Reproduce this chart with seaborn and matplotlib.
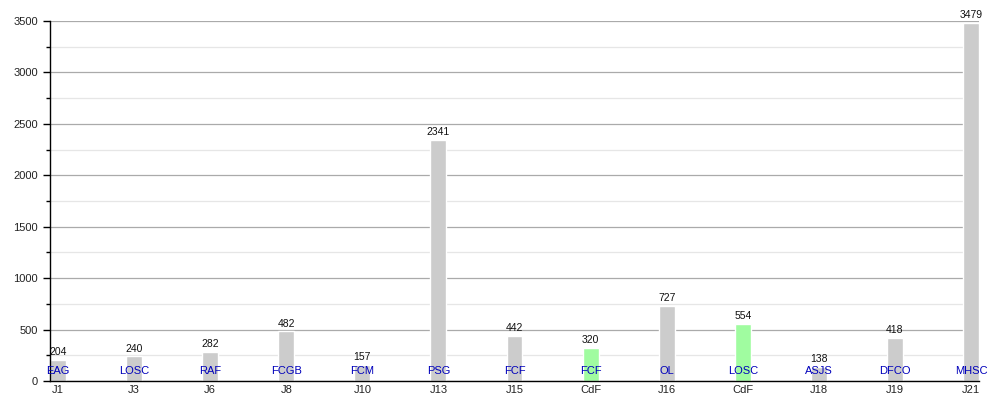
import matplotlib
matplotlib.use("Agg")
import matplotlib.pyplot as plt
import pandas as pd
import seaborn as sns
from matplotlib.ticker import MultipleLocator

rounds = ["J1", "J3", "J6", "J8", "J10", "J13", "J15", "CdF", "J16", "CdF", "J18", "J19", "J21"]
opponents = ["EAG", "LOSC", "RAF", "FCGB", "FCM", "PSG", "FCF", "FCF", "OL", "LOSC", "ASJS", "DFCO", "MHSC"]
spectators = [204, 240, 282, 482, 157, 2341, 442, 320, 727, 554, 138, 418, 3479]
competition = ["L", "L", "L", "L", "L", "L", "L", "C", "L", "C", "L", "L", "L"]

df = pd.DataFrame({
    "key": [f"{i}" for i in range(len(rounds))],
    "round": rounds,
    "opponent": opponents,
    "value": spectators,
    "comp": competition,
})

sns.set_style("white")
plt.rcParams["font.family"] = ["Liberation Sans", "DejaVu Sans"]

fig = plt.figure(figsize=(10, 4), dpi=100)
ax = fig.add_axes([0.05, 0.0475, 0.929, 0.9])

palette = {"L": "#cccccc", "C": "#a0fca0"}
sns.barplot(df, x="key", y="value", hue="comp", palette=palette, width=0.21,
            dodge=False, legend=False, ax=ax, saturation=1, zorder=2)

ax.set_xlim(-0.105, len(rounds) - 1 + 0.105)
ax.set_ylim(0, 3500)
ax.yaxis.set_major_locator(MultipleLocator(500))
ax.yaxis.set_minor_locator(MultipleLocator(250))
ax.grid(axis="y", which="major", color="#aaaaaa", linewidth=0.9, zorder=0)
ax.grid(axis="y", which="minor", color="#e6e6e6", linewidth=0.9, zorder=0)
ax.set_axisbelow(True)

ax.set_xticks(range(len(rounds)))
ax.set_xticklabels(rounds)
ax.tick_params(axis="x", length=0, labelsize=8, pad=3, labelcolor="#222222")
ax.tick_params(axis="y", which="major", length=5, width=1, labelsize=8, left=True,
               color="black", labelcolor="#222222")
ax.tick_params(axis="y", which="minor", length=3, width=1, left=True, color="black")
ax.set_xlabel("")
ax.set_ylabel("")

for s in ["top", "right"]:
    ax.spines[s].set_visible(False)
for s in ["left", "bottom"]:
    ax.spines[s].set_color("black")
    ax.spines[s].set_linewidth(1)

for i, (v, team) in enumerate(zip(spectators, opponents)):
    ax.annotate(str(v), xy=(i, v), xytext=(0, 2), textcoords="offset points",
                ha="center", va="bottom", fontsize=7.5, color="#111111")
    ax.annotate(team, xy=(i, 0), xytext=(0, 7.5), textcoords="offset points",
                ha="center", va="center", fontsize=8, color="#0000bb", zorder=5)

fig.savefig("out.png", dpi=100)
